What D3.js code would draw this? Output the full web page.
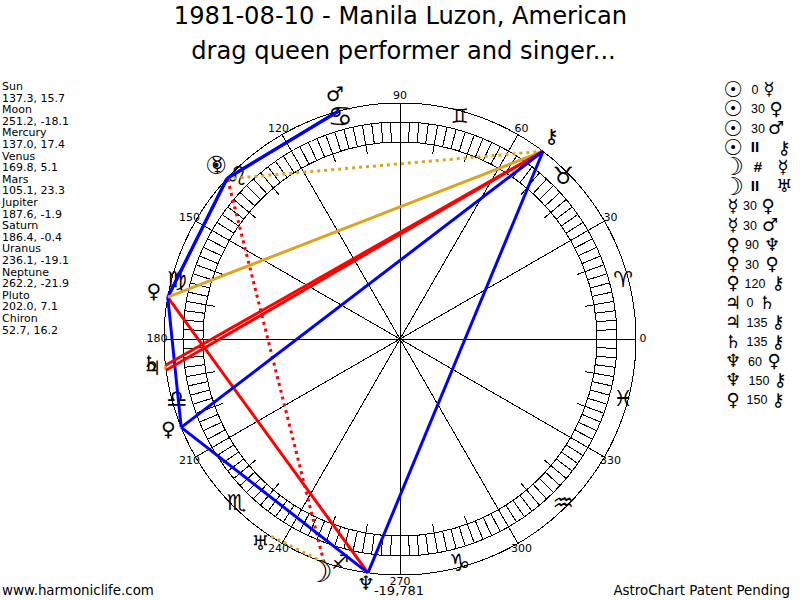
<!doctype html>
<html>
  <head>
    <meta charset="utf-8">
    <title>1981-08-10 - Manila Luzon</title>
    <style>
      body { margin: 0; background: #fff; }
      text { font-family: "DejaVu Sans", sans-serif; fill: #000; }
    </style>
    <script src="https://cdnjs.cloudflare.com/ajax/libs/d3/7.8.5/d3.min.js"></script>
  </head>
  <body>
    <div id="chart"></div>
    <script>
      // data
      const planetNames = ['Sun', 'Moon', 'Mercury', 'Venus', 'Mars', 'Jupiter', 'Saturn', 'Uranus', 'Neptune', 'Pluto', 'Chiron'];
      const longitudes = [137.3, 251.2, 137.0, 169.8, 105.1, 187.6, 186.4, 236.1, 262.2, 202.0, 52.7];
      const declinations = [15.7, -18.1, 17.4, 5.1, 23.3, -1.9, -0.4, -19.1, -21.9, 7.1, 16.2];
      // the reference draws Pluto as a cross and circle in a cup, the nearest installed glyph is the Venus one
      const planetGlyphs = ['\u2609', '\u263D', '\u263F', '\u2640', '\u2642', '\u2643', '\u2644', '\u2645', '\u2646', '\u2640', '\u26B7'];
      const zodiacGlyphs = ['\u2648', '\u2649', '\u264A', '\u264B', '\u264C', '\u264D', '\u264E', '\u264F', '\u2650', '\u2651', '\u2652', '\u2653'];
      const degreeTicks = [0, 30, 60, 90, 120, 150, 180, 210, 240, 270, 300, 330];

      const aspectFrom = ['Sun', 'Sun', 'Sun', 'Sun', 'Moon', 'Moon', 'Mercury', 'Mercury', 'Venus', 'Venus', 'Venus', 'Jupiter', 'Jupiter', 'Saturn', 'Neptune', 'Neptune', 'Pluto'];
      const aspectKind = ['0', '30', '30', 'II', '#', 'II', '30', '30', '90', '30', '120', '0', '135', '135', '60', '150', '150'];
      const aspectTo = ['Mercury', 'Venus', 'Mars', 'Chiron', 'Mercury', 'Uranus', 'Venus', 'Mars', 'Neptune', 'Pluto', 'Chiron', 'Saturn', 'Chiron', 'Chiron', 'Pluto', 'Chiron', 'Chiron'];

      // how each kind of aspect is drawn
      const kindColor = { '0': '#daa520', '120': '#daa520', 'II': '#daa520', '30': '#0000ff', '60': '#0000ff', '150': '#0000ff', '90': '#ff0000', '135': '#ff0000', '#': '#ff0000' };
      const dottedKinds = ['II', '#'];

      // legend columns, the original does not line these up row by row
      const legendKindX = [755, 758, 758, 755, 758, 755, 750, 750, 752, 752, 755, 750, 757, 757, 755, 759, 757];
      const legendToX = [769, 776, 776, 784, 783, 784, 768, 770, 772, 772, 778, 767, 778, 778, 774, 780, 778];

      const width = 800, height = 600;
      const cx = 400, cy = 339;
      const rOuter = 236, rRingOut = 217, rRingIn = 197, rTick = 188, rLabel = 243, rZodiac = 231, rPlanet = 250;

      // glyph sizes, Sun and Moon are much heavier in the reference
      const wheelSize = { 'Sun': 25, 'Moon': 30 };
      const listSize = { 'Sun': 22, 'Moon': 25 };
      const zodiacSize = [22, 24, 20, 28, 26, 22, 24, 22, 20, 24, 24, 22];

      const angle = d3.scaleLinear().domain([0, 360]).range([0, 2 * Math.PI]);
      const px = (deg, r) => cx + r * Math.cos(angle(deg));
      const py = (deg, r) => cy - r * Math.sin(angle(deg));
      const lon = name => longitudes[planetNames.indexOf(name)];
      const glyph = name => planetGlyphs[planetNames.indexOf(name)];
      const mid = size => size * 0.35; // baseline drop so the glyph centres on its point

      const svg = d3.select('#chart').append('svg')
        .attr('width', width)
        .attr('height', height)
        .style('display', 'block');

      // title
      svg.selectAll('.title')
        .data(['1981-08-10 - Manila Luzon, American', 'drag queen performer and singer...'])
        .join('text')
        .attr('class', 'title')
        .attr('x', (d, i) => i ? 403.5 : 400.5)
        .attr('y', (d, i) => 24 + i * 35)
        .attr('text-anchor', 'middle')
        .style('font-size', '24.2px')
        .text(d => d);

      // left list
      const listLines = planetNames.flatMap((name, i) => [name, longitudes[i].toFixed(1) + ', ' + declinations[i].toFixed(1)]);
      svg.selectAll('.list')
        .data(listLines)
        .join('text')
        .attr('class', 'list')
        .attr('x', 2)
        .attr('y', (d, i) => 90 + i * 11.6)
        .style('font-size', '11px')
        .text(d => d);

      // wheel
      const wheel = svg.append('g').attr('fill', 'none').attr('stroke', '#000').style('shape-rendering', 'crispEdges');
      wheel.selectAll('circle')
        .data([rOuter, rRingOut, rRingIn])
        .join('circle')
        .attr('cx', cx).attr('cy', cy).attr('r', d => d);

      wheel.selectAll('.ringTick')
        .data(d3.range(0, 360, 2.5))
        .join('line')
        .attr('class', 'ringTick')
        .attr('x1', d => px(d, d % 10 === 0 ? rTick : rRingIn))
        .attr('y1', d => py(d, d % 10 === 0 ? rTick : rRingIn))
        .attr('x2', d => px(d, rRingOut))
        .attr('y2', d => py(d, rRingOut));

      wheel.selectAll('.spoke')
        .data(degreeTicks)
        .join('line')
        .attr('class', 'spoke')
        .attr('x1', cx).attr('y1', cy)
        .attr('x2', d => px(d, rOuter))
        .attr('y2', d => py(d, rOuter));

      svg.selectAll('.degree')
        .data(degreeTicks)
        .join('text')
        .attr('class', 'degree')
        .attr('x', d => px(d, rLabel))
        .attr('y', d => py(d, rLabel) + 3)
        .attr('text-anchor', 'middle')
        .style('font-size', '11px')
        .text(d => d);

      svg.selectAll('.zodiac')
        .data(zodiacGlyphs)
        .join('text')
        .attr('class', 'zodiac')
        .attr('x', (d, i) => px(15 + i * 30, rZodiac))
        .attr('y', (d, i) => py(15 + i * 30, rZodiac) + mid(zodiacSize[i]))
        .attr('text-anchor', 'middle')
        .style('font-size', (d, i) => zodiacSize[i] + 'px')
        .text(d => d);

      // aspect lines, later ones on top
      svg.append('g').selectAll('line')
        .data(aspectKind)
        .join('line')
        .attr('x1', (d, i) => px(lon(aspectFrom[i]), rOuter))
        .attr('y1', (d, i) => py(lon(aspectFrom[i]), rOuter))
        .attr('x2', (d, i) => px(lon(aspectTo[i]), rOuter))
        .attr('y2', (d, i) => py(lon(aspectTo[i]), rOuter))
        .attr('stroke', d => kindColor[d])
        .attr('stroke-width', 3)
        .attr('stroke-dasharray', d => dottedKinds.includes(d) ? '3 4' : null);

      // planet glyphs round the wheel
      const wheelFont = i => wheelSize[planetNames[i]] || 20;
      svg.selectAll('.planet')
        .data(planetGlyphs)
        .join('text')
        .attr('class', 'planet')
        .attr('x', (d, i) => px(longitudes[i], rPlanet))
        .attr('y', (d, i) => py(longitudes[i], rPlanet) - 4 + mid(wheelFont(i)))
        .attr('text-anchor', 'middle')
        .style('font-size', (d, i) => wheelFont(i) + 'px')
        .style('font-weight', (d, i) => planetNames[i] === 'Sun' ? 'bold' : 'normal')
        .text(d => d);

      // aspect legend
      const rows = svg.selectAll('.row')
        .data(aspectKind)
        .join('g')
        .attr('class', 'row')
        .attr('transform', (d, i) => 'translate(0,' + (89 + i * 19.4) + ')');
      const listFont = name => listSize[name] || 18;
      rows.append('text')
        .attr('x', 733).attr('text-anchor', 'middle')
        .attr('y', (d, i) => mid(listFont(aspectFrom[i])))
        .style('font-size', (d, i) => listFont(aspectFrom[i]) + 'px')
        .style('font-weight', (d, i) => aspectFrom[i] === 'Sun' ? 'bold' : 'normal')
        .text((d, i) => glyph(aspectFrom[i]));
      rows.append('text')
        .attr('x', (d, i) => legendKindX[i]).attr('y', 5)
        .attr('text-anchor', 'middle')
        .style('font-family', '"Liberation Sans", sans-serif')
        .style('font-size', d => dottedKinds.includes(d) ? '15px' : '12.5px')
        .style('font-weight', d => dottedKinds.includes(d) ? 'bold' : 'normal')
        .text(d => d);
      rows.append('text')
        .attr('x', (d, i) => legendToX[i]).attr('text-anchor', 'middle')
        .attr('y', (d, i) => mid(listFont(aspectTo[i])))
        .style('font-size', (d, i) => listFont(aspectTo[i]) + 'px')
        .text((d, i) => glyph(aspectTo[i]));

      // footer
      svg.append('text').attr('x', 399).attr('y', 595).attr('text-anchor', 'middle').style('font-size', '13px').text('-19,781');
      svg.append('text').attr('x', 2).attr('y', 595).style('font-size', '13.4px').text('www.harmoniclife.com');
      svg.append('text').attr('x', 790).attr('y', 595).attr('text-anchor', 'end').style('font-size', '13.4px').text('AstroChart Patent Pending');
    </script>
  </body>
</html>
